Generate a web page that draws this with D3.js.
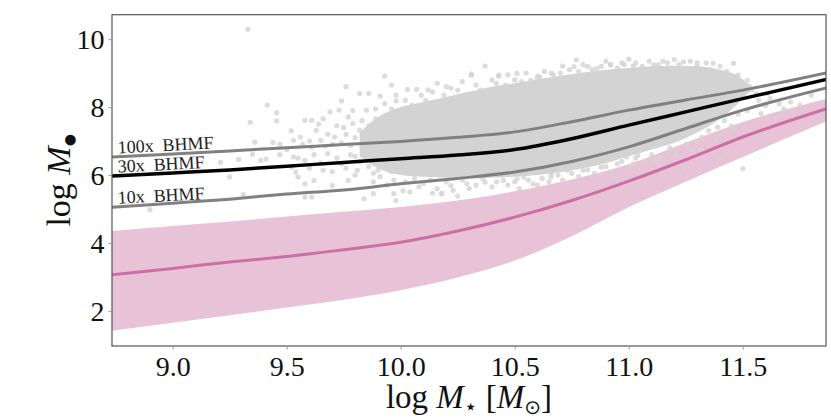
<!DOCTYPE html>
<html>
<head>
<meta charset="utf-8">
<script src="https://cdn.jsdelivr.net/npm/d3@7"></script>
<style>
  body { margin: 0; background: #fff; }
  svg { display: block; }
  text { font-family: "Liberation Serif", "DejaVu Serif", serif; }
</style>
</head>
<body>
<svg id="chart" width="831" height="420"></svg>
<script>
// stellar mass grid (log M*) for the model curves
const massGrid = [8.73, 9.0, 9.25, 9.5, 9.75, 10.0, 10.25, 10.5, 10.75, 11.0, 11.25, 11.5, 11.87];

// BHMF-scaled relations (log M_BH)
const bhmf100 = [6.53, 6.62, 6.71, 6.80, 6.90, 6.99, 7.11, 7.27, 7.57, 7.91, 8.21, 8.50, 9.01];
const bhmf30  = [5.97, 6.06, 6.15, 6.26, 6.37, 6.48, 6.59, 6.75, 7.07, 7.47, 7.86, 8.25, 8.82];
const bhmf10  = [5.05, 5.17, 5.29, 5.44, 5.56, 5.74, 5.90, 6.09, 6.40, 6.83, 7.37, 7.91, 8.57];

// pink relation: median and band
const pinkMid = [3.06, 3.25, 3.44, 3.60, 3.80, 4.02, 4.35, 4.76, 5.25, 5.82, 6.45, 7.12, 7.96];
const pinkHi  = [4.35, 4.50, 4.63, 4.78, 4.92, 5.06, 5.25, 5.52, 5.87, 6.32, 6.95, 7.56, 8.25];
const pinkLo  = [1.41, 1.65, 1.87, 2.10, 2.33, 2.61, 2.98, 3.48, 4.20, 5.05, 5.80, 6.53, 7.59];

// dense core of the galaxy cloud (solid region)
const cloudMass = [9.82, 9.9, 10.0, 10.1, 10.2, 10.3, 10.4, 10.5, 10.6, 10.7, 10.8, 10.9, 11.0, 11.1, 11.2, 11.3, 11.4, 11.47, 11.53];
const cloudLo   = [6.55, 6.2, 6.0, 5.95, 5.92, 5.9, 5.92, 5.95, 6.0, 6.08, 6.2, 6.35, 6.55, 6.75, 6.95, 7.25, 7.65, 8.05, 8.45];
const cloudHi   = [7.25, 7.7, 8.0, 8.15, 8.3, 8.45, 8.6, 8.7, 8.82, 8.92, 9.02, 9.1, 9.15, 9.2, 9.22, 9.2, 9.1, 8.95, 8.65];

// individual galaxies around the core [log M*, log M_BH]
const galaxies = [
  [9.33,10.29],[9.415,8.06],[9.456,7.83],[9.34,7.55],[9.456,7.59],[9.25,5.94],[9.21,6.37],[9.29,6.46],
  [9.35,6.61],[9.386,6.43],[9.41,6.47],[9.44,6.96],[9.47,6.9],[9.53,7.02],[9.52,6.23],[9.54,6.09],
  [9.31,5.42],[8.90,4.98],[9.36,6.97],
  [9.58,7.61],[9.61,7.61],[9.66,7.66],[9.69,7.86],[9.74,8.18],[9.73,7.91],[9.76,8.6],[9.77,7.71],
  [9.79,7.52],[9.85,7.91],[9.82,8.4],[9.86,8.4],[9.91,8.32],[9.93,8.91],[9.96,8.65],[9.98,8.18],
  [10.03,8.52],[10.07,8.52],[10.12,8.5],[10.16,8.7],[10.22,8.56],[10.31,8.97],[10.37,9.21],[10.43,8.94],
  [10.51,8.99],[10.57,8.79],[10.61,8.89],[10.71,9.21],[10.77,9.39],[10.86,9.14],[10.92,9.26],[11.0,9.41],
  [9.55,5.94],[9.58,5.74],[9.58,5.35],[9.61,5.35],[9.62,5.84],[9.70,5.69],[9.66,6.14],[9.77,5.84],
  [9.84,5.3],[9.88,5.45],[9.97,5.45],[9.98,5.25],[10.01,5.54],[10.14,5.47],[10.18,5.45],[10.25,5.38],
  [10.22,5.69],[10.29,5.74],[10.37,5.79],[10.45,5.84],[10.54,5.94],[10.58,5.74],[10.66,6.04],[10.73,6.14],
  [10.80,6.14],[10.88,6.23],[10.95,6.33],[11.04,6.58],
  [9.56,7.12],[9.63,7.32],[9.65,7.02],[9.53,6.53],[9.58,6.43],[9.61,6.82],[9.68,6.63],[9.71,7.12],
  [9.74,6.33],[9.78,6.87],[9.81,6.14],[9.82,7.32],[9.85,6.73],[9.90,7.02],[9.93,7.71],[9.90,6.14],
  [9.94,6.33],[9.87,7.2],[9.95,7.5],[9.97,6.9],[9.92,6.5],[9.88,6.05],[9.96,6.1],[9.75,7.4],
  [9.70,6.9],[9.80,6.55],[9.99,7.75],[9.89,7.65],[9.84,7.0],
  [10.31,8.94],[10.43,8.91],[10.60,8.91],[10.76,9.19],[10.92,9.24],[11.02,9.21],[11.11,9.24],[11.24,9.33],
  [11.37,9.29],[11.46,9.29],[11.46,8.89],[11.52,8.79],[11.54,8.5],[11.49,8.4],[11.61,8.4],[11.58,7.81],
  [11.65,7.71],[11.75,8.06],[11.71,8.15],[11.80,8.35],
  [11.50,6.19],[11.40,6.53],[11.32,6.73],[11.42,6.92],[11.46,7.32],[11.24,6.43],[11.17,6.63],[11.24,6.14],
  [11.11,6.43],[11.02,6.33],[10.94,5.89],[10.99,6.53],[11.32,7.12],[11.39,7.41],[11.55,7.22],
  [10.51,5.89],[10.66,5.94],[10.18,5.45],[10.04,5.5],
  [10.27,8.75],[10.47,8.95],[10.66,9.0],[10.82,9.2],[10.97,9.3],[11.15,9.35],[11.3,9.3],
  // left wing
  [9.47,6.6],[9.5,6.75],[9.52,7.3],[9.55,6.5],[9.57,6.9],[9.6,6.2],[9.6,7.0],[9.62,6.6],[9.64,7.5],
  [9.65,6.35],[9.67,6.85],[9.68,7.2],[9.7,6.1],[9.72,6.5],[9.72,7.45],[9.74,6.95],[9.76,6.2],[9.76,7.2],
  [9.78,6.6],[9.79,7.9],[9.8,6.0],[9.8,7.1],[9.82,6.4],[9.83,6.85],[9.83,7.6],[9.86,6.25],[9.86,7.45],
  [9.87,6.55],[9.88,5.8],[9.89,7.95],[9.9,6.85],[9.91,5.95],[9.92,7.3],[9.93,8.1],[9.94,5.7],[9.95,6.7],
  [9.96,7.95],[9.97,5.85],[9.98,8.35],
  // upper edge
  [10.02,8.2],[10.05,8.05],[10.09,8.35],[10.11,8.2],[10.14,8.45],[10.19,8.35],[10.2,8.6],[10.25,8.5],
  [10.28,8.35],[10.33,8.65],[10.35,8.5],[10.4,8.8],[10.42,8.7],[10.46,8.65],[10.5,8.8],[10.53,8.75],
  [10.55,9.0],[10.6,8.85],[10.63,9.05],[10.67,8.95],[10.7,9.0],[10.74,9.1],[10.78,9.05],[10.8,9.25],
  [10.84,9.1],[10.88,9.2],[10.9,9.35],[10.95,9.15],[10.98,9.25],[11.03,9.3],[11.06,9.2],[11.09,9.35],
  [11.13,9.25],[11.17,9.3],[11.2,9.4],[11.22,9.25],[11.27,9.35],[11.3,9.2],[11.34,9.3],[11.36,9.1],
  [11.4,9.2],[11.43,9.05],[11.44,8.9],[11.48,8.95],[11.5,8.7],[11.53,8.6],[11.56,8.4],[11.57,8.2],
  [11.6,8.05],[11.62,8.25],[11.66,8.1],[11.68,7.95],
  // lower edge
  [10.02,5.8],[10.06,5.9],[10.08,5.65],[10.1,5.75],[10.13,5.85],[10.16,5.6],[10.2,5.8],[10.23,5.55],
  [10.27,5.85],[10.3,5.6],[10.33,5.7],[10.36,5.9],[10.4,5.65],[10.42,5.8],[10.47,5.7],[10.5,5.8],
  [10.52,5.6],[10.56,5.85],[10.6,5.7],[10.62,5.9],[10.65,5.8],[10.69,6.0],[10.71,5.85],[10.75,6.05],
  [10.78,5.95],[10.82,6.15],[10.85,6.05],[10.9,6.25],[10.93,6.1],[10.97,6.4],[11.0,6.25],[11.03,6.5],
  [11.07,6.4],[11.1,6.6],[11.14,6.5],[11.18,6.8],[11.21,6.6],[11.25,6.9],[11.28,6.75],[11.3,7.0],
  [11.35,7.3],[11.38,7.05],[11.42,7.6],[11.45,7.45],[11.48,7.8],[11.52,7.9]
];

const xTicks = [9.0, 9.5, 10.0, 10.5, 11.0, 11.5];
const yTicks = [2, 4, 6, 8, 10];
const lineLabels = ["100x  BHMF", "30x  BHMF", "10x  BHMF"];

const width = 831, height = 420;
const margin = {top: 14.7, right: 5, bottom: 74, left: 112};

const x = d3.scaleLinear().domain([8.734, 11.865]).range([margin.left, width - margin.right]);
const y = d3.scaleLinear().domain([0.966, 10.72]).range([height - margin.bottom, margin.top]);

const svg = d3.select("#chart");

svg.append("clipPath")
    .attr("id", "plot-clip")
  .append("rect")
    .attr("x", x.range()[0])
    .attr("y", y.range()[1])
    .attr("width", x.range()[1] - x.range()[0])
    .attr("height", y.range()[0] - y.range()[1]);

const plot = svg.append("g").attr("clip-path", "url(#plot-clip)");

// pink band
const band = d3.area()
    .x((d, i) => x(massGrid[i]))
    .y0((d, i) => y(pinkLo[i]))
    .y1((d, i) => y(pinkHi[i]))
    .curve(d3.curveMonotoneX);

plot.append("path")
    .datum(massGrid)
    .attr("fill", "#cc79a7")
    .attr("fill-opacity", 0.45)
    .attr("d", band);

// galaxy cloud
const core = d3.area()
    .x((d, i) => x(cloudMass[i]))
    .y0((d, i) => y(cloudLo[i]))
    .y1((d, i) => y(cloudHi[i]))
    .curve(d3.curveMonotoneX);

plot.append("path")
    .datum(cloudMass)
    .attr("fill", "#d3d3d3")
    .attr("d", core);

plot.append("g")
  .selectAll("circle")
  .data(galaxies)
  .join("circle")
    .attr("cx", d => x(d[0]))
    .attr("cy", d => y(d[1]))
    .attr("r", 2.6)
    .attr("fill", "#d3d3d3")
    .attr("fill-opacity", 0.8);

// model lines
const line = vals => d3.line()
    .x((d, i) => x(massGrid[i]))
    .y((d, i) => y(vals[i]))
    .curve(d3.curveMonotoneX)(massGrid);

plot.append("path")
    .attr("d", line(pinkMid))
    .attr("fill", "none")
    .attr("stroke", "#cc6fa4")
    .attr("stroke-width", 3);

[bhmf100, bhmf10].forEach(vals => {
  plot.append("path")
      .attr("d", line(vals))
      .attr("fill", "none")
      .attr("stroke", "#808080")
      .attr("stroke-width", 3);
});

plot.append("path")
    .attr("d", line(bhmf30))
    .attr("fill", "none")
    .attr("stroke", "#000")
    .attr("stroke-width", 3.5);

// line labels
[bhmf100, bhmf30, bhmf10].forEach((vals, i) => {
  svg.append("text")
      .attr("transform", `translate(${x(8.76)},${y(vals[0]) - 3.5}) rotate(-3)`)
      .attr("font-size", 18)
      .attr("fill", "#222")
      .attr("xml:space", "preserve")
      .style("white-space", "pre")
      .text(lineLabels[i]);
});

// frame
svg.append("rect")
    .attr("x", x.range()[0])
    .attr("y", y.range()[1])
    .attr("width", x.range()[1] - x.range()[0])
    .attr("height", y.range()[0] - y.range()[1])
    .attr("fill", "none")
    .attr("stroke", "#555")
    .attr("stroke-width", 1.2);

// axes
const xAxis = svg.append("g")
    .attr("transform", `translate(0,${y.range()[0]})`)
    .call(d3.axisBottom(x).tickValues(xTicks).tickFormat(d3.format(".1f")).tickSize(3.5).tickPadding(6));

const yAxis = svg.append("g")
    .attr("transform", `translate(${x.range()[0]},0)`)
    .call(d3.axisLeft(y).tickValues(yTicks).tickFormat(d3.format("d")).tickSize(3.5).tickPadding(4));

[xAxis, yAxis].forEach(g => {
  g.select(".domain").remove();
  g.selectAll(".tick line").attr("stroke", "#999");
  g.selectAll(".tick text")
      .attr("font-family", "\"Liberation Serif\", \"DejaVu Serif\", serif")
      .attr("font-size", 28)
      .attr("fill", "#111");
});
xAxis.selectAll(".tick text").attr("dy", "0.72em");
yAxis.selectAll(".tick text").attr("dy", "0.34em");

// axis titles
const xTitle = svg.append("text")
    .attr("x", (x.range()[0] + x.range()[1]) / 2)
    .attr("y", 408)
    .attr("text-anchor", "middle")
    .attr("font-size", 33)
    .attr("fill", "#111");
xTitle.append("tspan").text("log ");
xTitle.append("tspan").attr("font-style", "italic").text("M");
xTitle.append("tspan").attr("font-size", 22).attr("dy", 6).attr("font-family", "DejaVu Sans").text("\u22c6");
xTitle.append("tspan").attr("dy", -6).text(" [");
xTitle.append("tspan").attr("font-style", "italic").text("M");
xTitle.append("tspan").attr("font-size", 20).attr("dy", 6).attr("font-family", "DejaVu Sans").text("\u2299");
xTitle.append("tspan").attr("dy", -6).text("]");

const yTitle = svg.append("text")
    .attr("transform", `translate(70,${(y.range()[0] + y.range()[1]) / 2}) rotate(-90)`)
    .attr("text-anchor", "middle")
    .attr("font-size", 34)
    .attr("fill", "#111");
yTitle.append("tspan").text("log ");
yTitle.append("tspan").attr("font-style", "italic").text("M");
yTitle.append("tspan").attr("font-size", 14).attr("dy", 4).attr("font-family", "DejaVu Sans").text("\u25cf");
</script>
</body>
</html>
